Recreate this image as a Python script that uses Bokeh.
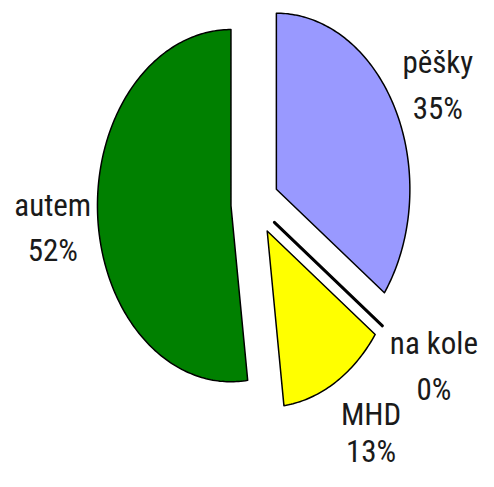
import math
from bokeh.plotting import figure
from bokeh.models import Range1d, ColumnDataSource
from bokeh.core.properties import value
from bokeh.embed import file_html
from bokeh.resources import INLINE

# ---- data ----
categories = ["pěšky", "na kole", "MHD", "autem"]
percents = [35, 0, 13, 52]
colors = ["#9999FF", "#800000", "#FFFF00", "#008000"]

# ---- layout (figure pixel space, y downward) ----
W, H = 478, 471
S = 0.9675                       # reference -> figure scale
cx, cy = 263 * S, 210 * S        # pie centre
rx, ry = 138 * S, 182 * S        # pie radii (image squeezed horizontally)
explode = 0.18
# label anchors in reference pixels: (x centre, baseline of name, baseline of percent)
label_ref = [(452, 64, 112), (448, 355, 402), (383, 428, 466), (54, 212, 258)]
FONT = value("Roboto Condensed")
FONT_SIZE = "31px"

p = figure(width=W, height=H, output_backend="svg", toolbar_location=None,
           x_range=Range1d(0, W), y_range=Range1d(H, 0),
           min_border=0, outline_line_color=None)
p.axis.visible = False
p.grid.visible = False
p.background_fill_color = "white"
p.border_fill_color = "white"

total = float(sum(percents))
xs, ys, lw = [], [], []
start = 0.0
for v in percents:
    a0 = start
    a1 = start + 360.0 * v / total
    m = math.radians((a0 + a1) / 2)
    vx = cx + explode * rx * math.sin(m)
    vy = cy - explode * ry * math.cos(m)
    n = max(2, int(abs(a1 - a0)) + 2)
    px, py = [vx], [vy]
    for i in range(n):
        t = math.radians(a0 + (a1 - a0) * i / (n - 1))
        px.append(vx + rx * math.sin(t))
        py.append(vy - ry * math.cos(t))
    xs.append(px)
    ys.append(py)
    lw.append(3.0 if v == 0 else 1.5)
    start = a1

src = ColumnDataSource(dict(xs=xs, ys=ys, color=colors, lw=lw))
p.patches("xs", "ys", source=src, fill_color="color", line_color="black",
          line_width="lw", line_join="round")

names_x = [lx * S for lx, _, _ in label_ref]
names_y = [b1 * S for _, b1, _ in label_ref]
pct_y = [b2 * S for _, _, b2 in label_ref]
pct_t = [f"{v}%" for v in percents]

p.text(x=names_x, y=names_y, text=categories, text_align="center",
       text_baseline="alphabetic", text_font=FONT,
       text_font_size=FONT_SIZE, text_color="#1a1a1a")
p.text(x=names_x, y=pct_y, text=pct_t, text_align="center",
       text_baseline="alphabetic", text_font=FONT,
       text_font_size=FONT_SIZE, text_color="#1a1a1a")

open("out.html", "w").write(file_html(p, INLINE))
